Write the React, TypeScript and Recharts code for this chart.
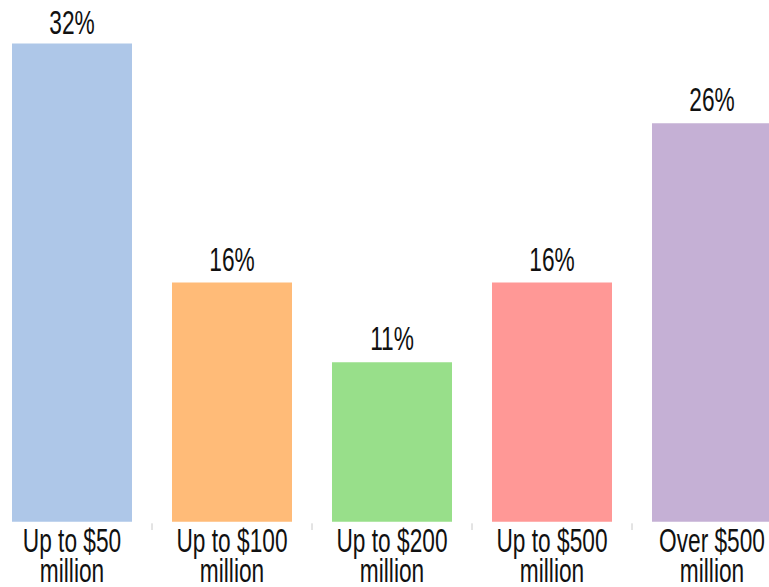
import React from "react";
import { BarChart, Bar, XAxis, YAxis, Cell, LabelList } from "recharts";

const categories = ["Up to $50 million", "Up to $100 million", "Up to $200 million", "Up to $500 million", "Over $500 million"];
const tickLines = [
  ["Up to $50", "million"],
  ["Up to $100", "million"],
  ["Up to $200", "million"],
  ["Up to $500", "million"],
  ["Over $500", "million"],
];
const values = [32, 16, 10.67, 16, 26.67];
const valueLabels = ["32%", "16%", "11%", "16%", "26%"];
const colors = ["#aec7e8", "#ffbb78", "#98df8a", "#ff9896", "#c5b0d5"];

const data = categories.map((c, i) => ({ name: c, value: values[i], idx: i }));

const FONT = "'Liberation Sans', Arial, Helvetica, sans-serif";
const SY = 1.43;

const Tick = (props: any) => {
  const { x, y, payload, index } = props;
  const lines = tickLines[index] || [String(payload.value)];
  const off = payload && payload.offset ? payload.offset : 0;
  return (
    <g>
      {index > 0 && (
        <line x1={x - off} x2={x - off} y1={y + 1.6} y2={y + 8.3} stroke="#c8c8c8" strokeWidth={1} />
      )}
      {lines.map((l: string, i: number) => (
        <text
          key={i}
          transform={`translate(${x},${y + 30 + i * 30}) scale(1,${SY})`}
          x={0}
          y={0}
          textAnchor="middle"
          fontFamily={FONT}
          fontSize={22.7}
          fill="#111"
        >
          {l}
        </text>
      ))}
    </g>
  );
};

const BarLabel = (props: any) => {
  const { x, y, width, index } = props;
  const cx = Number(x) + Number(width) / 2;
  const ty = Math.max(Number(y) - 12, 34.3);
  return (
    <text
      transform={`translate(${cx},${ty}) scale(1,${SY})`}
      x={0}
      y={0}
      textAnchor="middle"
      fontFamily={FONT}
      fontSize={22.7}
      fill="#111"
    >
      {valueLabels[index]}
    </text>
  );
};

export default function App() {
  return (
    <div style={{ position: "absolute", left: 0, top: 0, width: 769, height: 587, overflow: "hidden", background: "#fff" }}>
      <div style={{ position: "absolute", left: -8.3, top: 0 }}>
        <BarChart
          width={800}
          height={587}
          data={data}
          margin={{ top: 43.5, right: 0, bottom: 0, left: 0 }}
          barCategoryGap={20}
        >
          <XAxis
            dataKey="name"
            type="category"
            axisLine={false}
            tickLine={false}
            tickSize={0}
            tickMargin={0}
            height={65.3}
            interval={0}
            tick={<Tick />}
          />
          <YAxis hide domain={[0, 32]} />
          <Bar dataKey="value" isAnimationActive={false}>
            {data.map((d, i) => (
              <Cell key={i} fill={colors[i]} />
            ))}
            <LabelList dataKey="value" content={<BarLabel />} />
          </Bar>
        </BarChart>
      </div>
    </div>
  );
}
